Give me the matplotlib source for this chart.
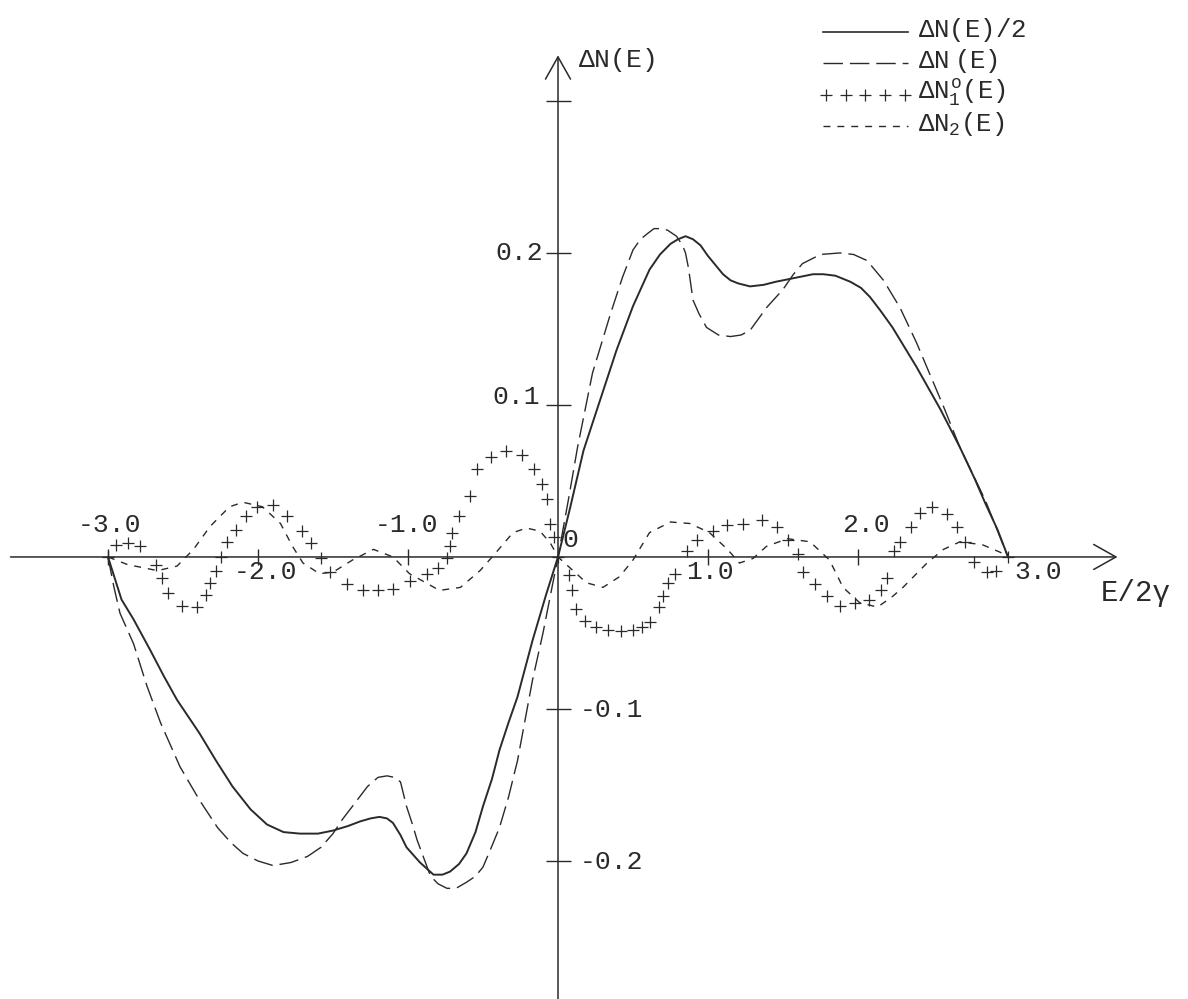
import matplotlib
matplotlib.use("Agg")
import matplotlib.pyplot as plt
import numpy as np

plt.rcParams['font.family'] = ['Liberation Mono', 'DejaVu Sans Mono']
plt.rcParams['mathtext.fontset'] = 'custom'
plt.rcParams['mathtext.rm'] = 'Liberation Mono'
plt.rcParams['mathtext.it'] = 'Liberation Mono'

INK = '#2a2a2a'

# --- datos ---
# Delta N(E)/2 (linea continua)
E_half = [-3.0, -2.91, -2.83, -2.72, -2.63, -2.54, -2.39, -2.28, -2.17, -2.05, -1.94, -1.83,
          -1.72, -1.6, -1.5, -1.4, -1.32, -1.25, -1.19, -1.14, -1.1, -1.05, -1.01, -0.92,
          -0.83, -0.77, -0.72, -0.66, -0.61, -0.55, -0.5, -0.44, -0.39, -0.33, -0.27, -0.17,
          -0.08, 0.0, 0.08, 0.17, 0.28, 0.39, 0.5, 0.61, 0.68, 0.75, 0.8, 0.85,
          0.9, 0.95, 1.0, 1.05, 1.1, 1.15, 1.2, 1.28, 1.37, 1.45, 1.6, 1.7,
          1.77, 1.85, 1.95, 2.02, 2.08, 2.15, 2.23, 2.31, 2.39, 2.47, 2.55, 2.68,
          2.78, 2.85, 2.93, 3.0]
N_half = [0.0, -0.028, -0.041, -0.061, -0.078, -0.094, -0.116, -0.134, -0.151, -0.166, -0.176, -0.181,
          -0.182, -0.182, -0.180, -0.177, -0.174, -0.172, -0.171, -0.172, -0.175, -0.183, -0.191, -0.201,
          -0.209, -0.209, -0.207, -0.202, -0.195, -0.181, -0.164, -0.146, -0.127, -0.109, -0.092, -0.055,
          -0.025, 0.0, 0.032, 0.070, 0.103, 0.136, 0.165, 0.189, 0.199, 0.206, 0.209, 0.211,
          0.209, 0.205, 0.198, 0.192, 0.186, 0.182, 0.180, 0.178, 0.179, 0.181, 0.184, 0.186,
          0.186, 0.185, 0.181, 0.177, 0.171, 0.162, 0.151, 0.138, 0.125, 0.111, 0.097, 0.072,
          0.051, 0.035, 0.018, 0.0]

# Delta N(E) (trazo largo)
E_full = [-3.0, -2.96, -2.92, -2.83, -2.74, -2.65, -2.52, -2.39, -2.27, -2.18, -2.1, -2.0,
          -1.9, -1.78, -1.67, -1.58, -1.5, -1.44, -1.37, -1.27, -1.2, -1.14, -1.09, -1.05,
          -1.01, -0.97, -0.94, -0.85, -0.8, -0.74, -0.68, -0.61, -0.55, -0.5, -0.44, -0.39,
          -0.33, -0.27, -0.17, -0.1, 0.0, 0.07, 0.13, 0.23, 0.35, 0.43, 0.5, 0.55,
          0.6, 0.64, 0.68, 0.73, 0.79, 0.83, 0.85, 0.87, 0.9, 0.94, 0.99, 1.07,
          1.15, 1.22, 1.28, 1.39, 1.5, 1.57, 1.63, 1.75, 1.88, 1.97, 2.06, 2.17,
          2.28, 2.39, 2.48, 2.57, 2.68, 2.85, 3.0]
N_full = [0.0, -0.020, -0.037, -0.057, -0.085, -0.109, -0.138, -0.160, -0.178, -0.188, -0.195, -0.200,
          -0.203, -0.201, -0.197, -0.191, -0.182, -0.173, -0.164, -0.151, -0.145, -0.144, -0.145, -0.148,
          -0.164, -0.176, -0.186, -0.210, -0.215, -0.218, -0.218, -0.214, -0.210, -0.204, -0.190, -0.178,
          -0.158, -0.134, -0.081, -0.050, 0.0, 0.038, 0.072, 0.121, 0.160, 0.184, 0.202, 0.209,
          0.213, 0.216, 0.216, 0.215, 0.211, 0.205, 0.200, 0.190, 0.169, 0.160, 0.151, 0.146,
          0.145, 0.146, 0.149, 0.164, 0.176, 0.186, 0.193, 0.199, 0.200, 0.199, 0.195, 0.182,
          0.164, 0.141, 0.120, 0.099, 0.072, 0.037, 0.0]

# Delta N_1^o(E) (cruces)
E_n1 = [-3.0, -2.95, -2.87, -2.79, -2.68, -2.64, -2.6, -2.51, -2.41, -2.35, -2.32, -2.28,
        -2.25, -2.21, -2.15, -2.08, -2.01, -1.9, -1.81, -1.71, -1.65, -1.58, -1.52, -1.41,
        -1.3, -1.2, -1.1, -0.99, -0.875, -0.8, -0.74, -0.72, -0.71, -0.66, -0.59, -0.54,
        -0.45, -0.35, -0.24, -0.16, -0.11, -0.075, -0.053, -0.03, 0.0, 0.07, 0.09, 0.12,
        0.18, 0.25, 0.33, 0.42, 0.5, 0.56, 0.61, 0.67, 0.7, 0.735, 0.78, 0.86, 0.925,
        1.035, 1.125, 1.235, 1.36, 1.46, 1.535, 1.6, 1.635, 1.71, 1.79, 1.88, 1.98, 2.07,
        2.15, 2.19, 2.24, 2.28, 2.35, 2.41, 2.49, 2.59, 2.66, 2.71, 2.77, 2.86, 2.92, 3.0]
N_n1 = [0.0, 0.008, 0.009, 0.007, -0.005, -0.014, -0.024, -0.032, -0.033, -0.025, -0.017, -0.009,
        0.0, 0.010, 0.018, 0.027, 0.033, 0.034, 0.027, 0.017, 0.009, -0.001, -0.010, -0.018,
        -0.022, -0.022, -0.021, -0.016, -0.011, -0.007, -0.001, 0.007, 0.016, 0.027, 0.040, 0.058,
        0.066, 0.070, 0.067, 0.058, 0.048, 0.038, 0.022, 0.013, 0.0, -0.012, -0.022, -0.034,
        -0.042, -0.046, -0.048, -0.049, -0.048, -0.046, -0.043, -0.033, -0.026, -0.017, -0.011, 0.004, 0.011,
        0.017, 0.021, 0.022, 0.024, 0.020, 0.011, 0.002, -0.010, -0.018, -0.026, -0.032, -0.030, -0.028,
        -0.022, -0.014, 0.004, 0.010, 0.020, 0.029, 0.033, 0.028, 0.020, 0.010, -0.003, -0.010, -0.009, 0.0]

# Delta N_2(E) (trazo corto)
E_n2 = [-3.0, -2.87, -2.67, -2.54, -2.43, -2.32, -2.19, -2.1, -1.97, -1.85, -1.77, -1.7,
        -1.59, -1.5, -1.37, -1.23, -1.1, -0.99, -0.79, -0.65, -0.52, -0.43, -0.3, -0.21,
        -0.12, -0.05, 0.0, 0.19, 0.3, 0.41, 0.5, 0.61, 0.75, 0.88, 1.01, 1.13, 1.21, 1.3,
        1.39, 1.53, 1.68, 1.81, 1.9, 2.01, 2.13, 2.23, 2.3, 2.46, 2.57, 2.68, 2.83, 2.95, 3.0]
N_n2 = [0.0, -0.005, -0.009, -0.006, 0.005, 0.020, 0.033, 0.036, 0.033, 0.022, 0.007, -0.004,
        -0.011, -0.010, -0.002, 0.005, 0.0, -0.011, -0.022, -0.020, -0.009, 0.001, 0.016, 0.019,
        0.017, 0.009, 0.0, -0.017, -0.020, -0.013, -0.002, 0.016, 0.023, 0.022, 0.016, 0.005, -0.004, -0.001,
        0.007, 0.012, 0.010, -0.002, -0.020, -0.030, -0.033, -0.026, -0.020, -0.004, 0.005, 0.010, 0.008, 0.003, 0.0]

# marcas y etiquetas de los ejes
x_ticks = [-3, -2, -1, 1, 2]
y_ticks = [0.3, 0.2, 0.1, -0.1, -0.2]
x_lab = ["-3.0", "-2.0", "-1.0", "0", "1.0", "2.0", "3.0"]
x_lab_x = [-2.99, -1.95, -1.01, 0.08, 1.01, 2.05, 3.2]
x_lab_y = [0.021, -0.0099, 0.021, 0.011, -0.0099, 0.021, -0.0099]
y_lab = ["0.2", "0.1", "-0.1", "-0.2"]
y_lab_x = [-0.1, -0.12, 0.147, 0.147]
y_lab_y = [0.2, 0.105, -0.1007, -0.201]

leyenda = [r"$\Delta N(E)/2$", r"$\Delta N\ (E)$", r"$\Delta N_1^o(E)$", r"$\Delta N_2(E)$"]


fig = plt.figure(figsize=(11.88, 9.99), dpi=100)
fig.patch.set_facecolor('white')
ax = fig.add_axes([0, 0, 1, 1])
ax.set_xlim(-3.72, 4.2)
ax.set_ylim(-0.2908, 0.3664)

# curvas
ax.plot(E_half, N_half, '-', color=INK, lw=1.4)
ax.plot(E_full, N_full, color=INK, lw=1.0, dashes=(14, 5))
ax.plot(E_n1, N_n1, '+', color=INK, ms=8, mew=0.9)
ax.plot(E_n2, N_n2, color=INK, lw=1.0, dashes=(5, 5))

# ejes con flecha
ax.annotate('', xy=(3.73, 0), xytext=(-3.65, 0),
            arrowprops=dict(arrowstyle='->, head_length=0.8, head_width=0.45',
                            color=INK, lw=1.1, mutation_scale=20, shrinkA=0, shrinkB=0))
ax.annotate('', xy=(0, 0.330), xytext=(0, -0.2908),
            arrowprops=dict(arrowstyle='->, head_length=0.8, head_width=0.45',
                            color=INK, lw=1.1, mutation_scale=20, shrinkA=0, shrinkB=0))

for s in ax.spines.values():
    s.set_visible(False)
ax.spines['left'].set_position(('data', 0))
ax.spines['bottom'].set_position(('data', 0))
ax.set_xticks(x_ticks)
ax.set_yticks(y_ticks)
ax.tick_params(axis='x', direction='inout', length=11, width=1.0, color=INK,
               labelbottom=False, top=False)
ax.tick_params(axis='y', direction='inout', length=18, width=1.0, color=INK,
               labelleft=False, right=False)

for t, xx, yy in zip(x_lab, x_lab_x, x_lab_y):
    ax.text(xx, yy, t, fontsize=19, color=INK, ha='center', va='center')
for t, xx, yy in zip(y_lab, y_lab_x, y_lab_y):
    ax.text(xx, yy, t, fontsize=19, color=INK, ha='right' if xx < 0 else 'left', va='center')

ax.text(0.13, 0.3266, r"$\Delta N(E)$", fontsize=19, color=INK, ha='left', va='center')
ax.text(3.62, -0.0237, "E/2γ", fontsize=21, color=INK, ha='left', va='center')

# leyenda dibujada a mano (arriba a la derecha)
estilos = [dict(ls='-', lw=1.2), dict(lw=1.0, dashes=(14, 5)),
           dict(ls='none', marker='+', ms=8, mew=0.9), dict(lw=1.0, dashes=(5, 5))]
y0 = 0.968
for i, (lab, st) in enumerate(zip(leyenda, estilos)):
    yy = y0 - i * 0.0315
    if st.get('marker'):
        xs = np.linspace(0.695, 0.762, 5)
    else:
        xs = [0.693, 0.764]
    ax.plot(xs, [yy] * len(xs), color=INK, transform=ax.transAxes, **st)
    ax.text(0.773, yy + 0.002, lab, fontsize=18.5, color=INK, ha='left', va='center',
            transform=ax.transAxes)

ax.set_facecolor('white')
fig.savefig('out.png', dpi=100)
